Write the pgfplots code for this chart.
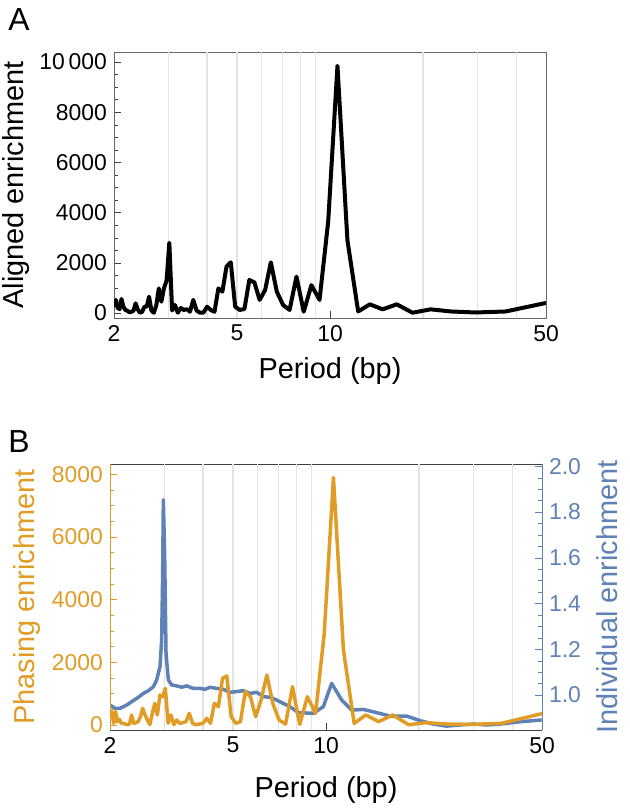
\documentclass[border=0pt]{standalone}
\usepackage{fontspec}
\setmainfont{Liberation Sans}
\usepackage{pgfplots}
\usepackage{pgfplotstable}
\pgfplotsset{compat=1.18}
\definecolor{mOrange}{rgb}{0.88,0.61,0.14}
\definecolor{mBlue}{rgb}{0.37,0.51,0.71}
\definecolor{frameg}{gray}{0.4}

\pgfplotstableread{
x a o
2.0000 250 266
2.0274 520 425
2.0556 200 53
2.0845 150 425
2.1143 560 106
2.1449 250 181
2.1765 120 53
2.2090 90 53
2.2424 30 30
2.2769 50 10
2.3125 90 30
2.3492 385 319
2.3871 145 53
2.4262 10 75
2.4667 50 106
2.5085 250 266
2.5517 250 532
2.5965 650 319
2.6429 100 160
2.6909 10 10
2.7407 300 372
2.7925 980 691
2.8462 450 319
2.9020 980 957
2.9600 1300 900
3.0204 2800 1170
3.0833 100 60
3.1489 320 319
3.2174 10 10
3.2889 200 160
3.3636 120 53
3.4419 150 75
3.5238 50 106
3.6098 520 372
3.7000 100 53
3.7949 10 10
3.8947 15 30
4.0000 250 53
4.1111 120 213
4.2286 50 53
4.3529 980 691
4.4848 850 585
4.6250 1850 1489
4.7742 2020 1563
4.9333 250 266
5.1034 120 53
5.2857 160 106
5.4815 1315 1063
5.6923 1220 904
5.9200 520 266
6.1667 915 798
6.4348 2020 1595
6.7273 850 691
7.0476 320 160
7.4000 120 30
7.7895 1450 1223
8.2222 50 20
8.7059 1110 904
9.2500 520 372
9.8667 3650 2900
10.5714 9850 7900
11.3846 2900 2400
12.3333 60 53
13.4545 345 319
14.8000 145 106
16.4444 345 319
18.5000 10 10
21.1429 145 75
24.6667 60 30
29.6000 20 20
37.0000 60 53
49.3333 385 350
50.0000 400 360
}\dataAO

\pgfplotstableread{
x b
2.000 0.956
2.076 0.942
2.155 0.942
2.264 0.956
2.351 0.971
2.440 0.985
2.564 1.007
2.661 1.019
2.762 1.036
2.832 1.066
2.903 1.124
2.939 1.241
2.961 1.533
2.976 1.854
3.006 1.606
3.036 1.182
3.089 1.066
3.167 1.044
3.287 1.040
3.412 1.034
3.541 1.040
3.721 1.029
3.911 1.029
4.059 1.025
4.213 1.034
4.428 1.029
4.653 1.025
4.890 1.012
5.139 1.015
5.401 1.019
5.676 1.007
5.965 1.012
6.269 0.993
6.588 0.990
6.924 0.978
7.276 0.963
7.647 0.949
8.137 0.923
9.098 0.920
9.803 0.949
10.43 1.051
11.24 0.978
12.11 0.934
13.21 0.937
14.59 0.923
16.11 0.908
18.24 0.908
20.15 0.888
22.25 0.873
24.57 0.864
27.14 0.869
29.97 0.873
33.11 0.869
36.56 0.873
42.44 0.883
49.88 0.891
}\dataB

\pgfplotsset{
  common/.style={
    scale only axis, width=216bp, height=133bp,
    xmin=2, xmax=50,
    xtick={2,5,10,50}, xticklabels={2,5,10,50},
    xminorticks=false,
    extra x ticks={3,4,5,6,7,8,9,20,30,40},
    extra x tick labels={},
    extra x tick style={grid=major, major tick length=0pt},
    major grid style={gray!22, line width=0.55bp},
    tick align=inside,
    major tick length=3.5bp, minor tick length=2bp,
    /pgf/number format/assume math mode=true,
    ticklabel style={font=\fontsize{11.5}{13}\selectfont},
    label style={font=\fontsize{14.5}{17}\selectfont},
    scaled y ticks=false,
  }
}

\begin{document}
\begin{tikzpicture}
\path[use as bounding box] (0,0) rectangle (315bp,-405bp);

% Panel A
\begin{axis}[xmode=log, common, at={(57bp,-159bp)}, anchor=south west,
  ymin=-200, ymax=10400, ytick={0,2000,4000,6000,8000,10000},
  yticklabels={0,2000,4000,6000,8000,10\,000}, minor y tick num=3,
  tick pos=left,
  axis line style={frameg}, tick style={black!75},
  ylabel={Aligned enrichment}, xlabel={Period (bp)},
  ylabel style={at={(axis description cs:-0.227,0.5)}, anchor=center},
  xlabel style={at={(axis description cs:0.5,-0.2)}, anchor=center},
]
\addplot[black, line width=2bp, line join=round] table[x=x, y=a] {\dataAO};
\end{axis}

% Panel B, blue (right axis)
\begin{axis}[xmode=log, common, at={(55bp,-365bp)}, anchor=south west,
  ymin=0.847, ymax=2.01, ytick={1,1.2,1.4,1.6,1.8,2},
  yticklabels={1.0,1.2,1.4,1.6,1.8,2.0}, minor y tick num=3,
  xtick pos=left, ytick pos=right,
  separate axis lines,
  x axis line style={black!75}, y axis line style={mBlue},
  x tick style={black!75}, y tick style={mBlue},
  yticklabel style={color=mBlue},
  ylabel={Individual enrichment},
  ylabel style={color=mBlue, at={(axis description cs:1.15,0.5)}, anchor=center},
  xlabel={Period (bp)},
  xlabel style={at={(axis description cs:0.5,-0.225)}, anchor=center},
]
\addplot[mBlue, line width=1.75bp, line join=round] table[x=x, y=b] {\dataB};
\end{axis}

% Panel B, orange (left axis)
\begin{axis}[xmode=log, common, at={(55bp,-365bp)}, anchor=south west,
  axis x line=none, axis y line*=left,
  extra x tick style={grid=none},
  ymin=-160, ymax=8330, ytick={0,2000,4000,6000,8000},
  yticklabels={0,2000,4000,6000,8000}, minor y tick num=3,
  y axis line style={mOrange}, y tick style={mOrange},
  yticklabel style={color=mOrange},
  ylabel={Phasing enrichment},
  ylabel style={color=mOrange, at={(axis description cs:-0.191,0.5)}, anchor=center},
]
\addplot[mOrange, line width=1.75bp, line join=round] table[x=x, y=o] {\dataAO};
\end{axis}

\node[font=\fontsize{16}{18}\selectfont] at (9.5bp,-10bp) {A};
\node[font=\fontsize{16}{18}\selectfont] at (9.5bp,-220.8bp) {B};
\end{tikzpicture}
\end{document}
